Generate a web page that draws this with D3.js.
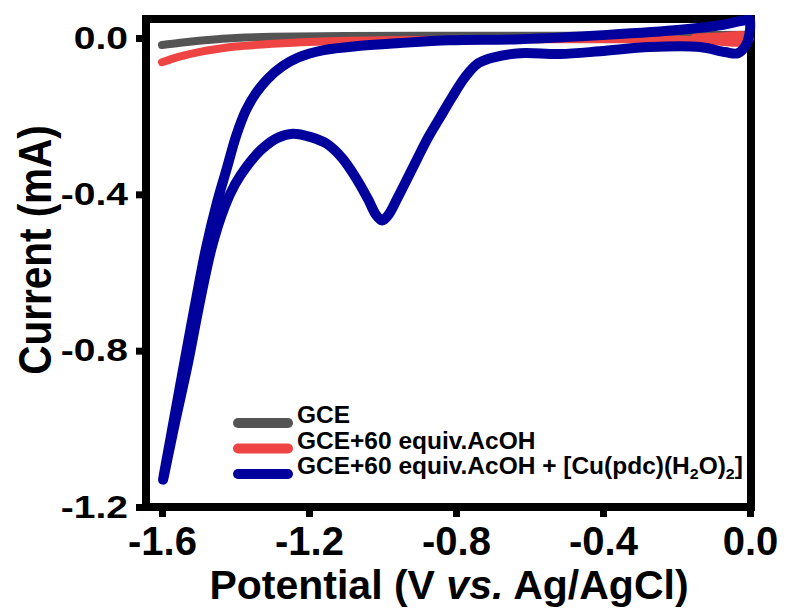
<!DOCTYPE html>
<html>
<head>
<meta charset="utf-8">
<script src="https://cdn.jsdelivr.net/npm/d3@7"></script>
<style>
  body { margin: 0; background: #fff; }
  svg { display: block; }
  text { font-family: "Liberation Sans", Arial, sans-serif; font-weight: bold; fill: #000; }
</style>
</head>
<body>
<div id="chart"></div>
<script>
// ---- data (V vs. Ag/AgCl, mA) ----
const potentialGCE = [-1.6, -1.55, -1.5, -1.45, -1.4, -1.3, -1.1, -0.8, -0.5, -0.2, 0.0];
const currentGCE   = [-0.018, -0.012, -0.007, -0.003, 0.0, 0.003, 0.005, 0.006, 0.006, 0.007, 0.008];

const potentialAcOH = [-1.6, -1.55, -1.5, -1.45, -1.4, -1.3, -1.2, -1.0, -0.7, -0.4, -0.2, -0.1, -0.04, -0.01, 0.0, -0.02, -0.08, -0.15];
const currentAcOH   = [-0.062, -0.047, -0.036, -0.028, -0.022, -0.015, -0.010, -0.006, -0.004, -0.003, -0.004, -0.008, -0.012, -0.009, 0.0, 0.007, 0.004, 0.001];

// cathodic sweep from 0 V to -1.6 V, then the return sweep back to 0 V
const potentialCu = [0.0, 0.0, -0.011, -0.033, -0.068, -0.136, -0.272, -0.408, -0.517, -0.626, -0.694, -0.740, -0.776,
  -0.811, -0.844, -0.876, -0.906, -0.933, -0.961, -0.985, -1.001, -1.018, -1.039, -1.075, -1.110, -1.151, -1.197,
  -1.244, -1.284, -1.328, -1.369, -1.401, -1.429, -1.464, -1.497, -1.529, -1.565, -1.597,
  -1.575, -1.545, -1.512, -1.480, -1.450, -1.424, -1.398, -1.372, -1.345, -1.312, -1.272, -1.230, -1.160, -1.060,
  -0.953, -0.817, -0.626, -0.389, -0.190, -0.073, -0.022, 0.0];
const currentCu = [0.044, 0.021, -0.018, -0.039, -0.036, -0.023, -0.023, -0.034, -0.041, -0.039, -0.049, -0.065, -0.101,
  -0.152, -0.204, -0.255, -0.310, -0.361, -0.413, -0.454, -0.467, -0.452, -0.413, -0.354, -0.307, -0.271, -0.253,
  -0.245, -0.255, -0.284, -0.328, -0.374, -0.431, -0.534, -0.676, -0.831, -0.986, -1.130,
  -1.015, -0.860, -0.692, -0.537, -0.420, -0.335, -0.250, -0.186, -0.142, -0.104, -0.072, -0.050, -0.031, -0.020,
  -0.013, -0.006, -0.003, 0.008, 0.021, 0.034, 0.044, 0.046];

const xTickValues = [-1.6, -1.2, -0.8, -0.4, 0.0];
const yTickValues = [0.0, -0.4, -0.8, -1.2];

const seriesNames  = ["GCE", "GCE+60 equiv.AcOH", "GCE+60 equiv.AcOH + [Cu(pdc)(H2O)2]"];
const seriesColors = ["#545454", "#ef4444", "#00009c"];

// ---- layout ----
const width = 785, height = 608;
const frame = { left: 146, right: 751, top: 19, bottom: 507 };

const svg = d3.select("#chart").append("svg")
    .attr("width", width)
    .attr("height", height);

const xScale = d3.scaleLinear()
    .domain([-1.6435, 0.0027])
    .range([frame.left, frame.right]);

const yScale = d3.scaleLinear()
    .domain([-1.2, 0.0486])
    .range([frame.bottom, frame.top]);

// axes (ticks point outward, frame drawn separately)
const xAxis = d3.axisBottom(xScale)
    .tickValues(xTickValues)
    .tickFormat(d => d.toFixed(1))
    .tickSizeInner(10)
    .tickSizeOuter(0)
    .tickPadding(10);

const yAxis = d3.axisLeft(yScale)
    .tickValues(yTickValues)
    .tickFormat(d => d.toFixed(1))
    .tickSizeInner(10)
    .tickSizeOuter(0)
    .tickPadding(8);

const xAxisGroup = svg.append("g")
    .attr("transform", `translate(0,${frame.bottom})`)
    .call(xAxis);

const yAxisGroup = svg.append("g")
    .attr("transform", `translate(${frame.left},0)`)
    .call(yAxis);

[xAxisGroup, yAxisGroup].forEach(g => {
    g.select(".domain").remove();
    g.selectAll(".tick line").attr("stroke", "#000").attr("stroke-width", 7);
});
xAxisGroup.selectAll(".tick text").attr("font-size", 40).attr("font-family", null);

// the y labels in the reference are wider than they are tall, so stretch them a little
const yStretch = 1.22;
yAxisGroup.selectAll(".tick text")
    .attr("font-size", 32)
    .attr("font-family", null)
    .attr("x", -18 / yStretch)
    .attr("transform", `scale(${yStretch},1)`);

// frame
svg.append("rect")
    .attr("x", frame.left)
    .attr("y", frame.top)
    .attr("width", frame.right - frame.left)
    .attr("height", frame.bottom - frame.top)
    .attr("fill", "none")
    .attr("stroke", "#000")
    .attr("stroke-width", 8);

// curves
const line = d3.line()
    .x(d => xScale(d[0]))
    .y(d => yScale(d[1]))
    .curve(d3.curveCatmullRom.alpha(0.5));

const series = [
    d3.zip(potentialGCE, currentGCE),
    d3.zip(potentialAcOH, currentAcOH),
    d3.zip(potentialCu, currentCu)
];
const lineWidths = [8, 8, 10];

series.forEach((s, i) => {
    svg.append("path")
        .datum(s)
        .attr("d", line)
        .attr("fill", "none")
        .attr("stroke", seriesColors[i])
        .attr("stroke-width", lineWidths[i])
        .attr("stroke-linecap", "round")
        .attr("stroke-linejoin", "round");
});

// legend
const legend = svg.append("g").attr("transform", "translate(238,423)");
const rowGap = 25.5;
const legendStretch = 1.065;

seriesNames.forEach((name, i) => {
    const row = legend.append("g").attr("transform", `translate(0,${i * rowGap})`);
    row.append("line")
        .attr("x1", 0).attr("x2", 50)
        .attr("stroke", seriesColors[i])
        .attr("stroke-width", 10)
        .attr("stroke-linecap", "round");
    const t = row.append("text")
        .attr("transform", `translate(59,0) scale(${legendStretch},1)`)
        .attr("dy", "0.36em")
        .attr("font-size", 23);
    // "2" after H or ")" is a subscript
    const parts = name.split(/(?<=[H)])(2)/);
    parts.forEach((p, k) => {
        if (p === "") return;
        const isSub = k % 2 === 1;
        t.append("tspan")
            .attr("font-size", isSub ? 15 : 23)
            .attr("dy", isSub ? 5 : (k > 0 ? -5 : 0))
            .text(p);
    });
});

// axis titles
svg.append("text")
    .attr("x", 449)
    .attr("y", 599)
    .attr("text-anchor", "middle")
    .attr("font-size", 41)
    .call(t => {
        t.append("tspan").text("Potential (V ");
        t.append("tspan").attr("font-style", "italic").text("vs.");
        t.append("tspan").text(" Ag/AgCl)");
    });

svg.append("text")
    .attr("transform", "translate(51,250) scale(1.15,1) rotate(-90)")
    .attr("text-anchor", "middle")
    .attr("font-size", 40.5)
    .text("Current (mA)");
</script>
</body>
</html>
